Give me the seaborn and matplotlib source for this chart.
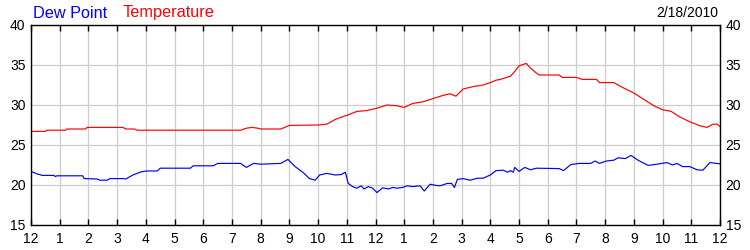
import matplotlib
matplotlib.use("Agg")
import matplotlib.pyplot as plt
import seaborn as sns
import pandas as pd

# ---- data (hours since midnight, °F) ----
temp_hours = [0.0, 0.5, 0.55, 1.2, 1.25, 1.9, 1.95, 3.2, 3.3, 3.6, 3.7, 7.3, 7.5, 7.7, 7.9, 8.0, 8.7, 9.0,
              10.0, 10.3, 10.6, 10.9, 11.0, 11.35, 11.7, 12.05, 12.4, 12.75, 13.0, 13.3, 13.65, 14.0,
              14.35, 14.6, 14.8, 15.05, 15.4, 15.75, 16.0, 16.2, 16.35, 16.7, 16.85, 17.0, 17.25,
              17.4, 17.6, 17.7, 18.4, 18.5, 19.0, 19.2, 19.7, 19.8, 20.3, 20.6, 21.0, 21.3, 21.7,
              22.0, 22.3, 22.6, 22.95, 23.3, 23.55, 23.75, 23.9, 24.0]
temp_values = [26.7, 26.7, 26.85, 26.85, 27.0, 27.0, 27.2, 27.2, 27.0, 27.0, 26.85, 26.85, 27.1, 27.2, 27.1, 27.0,
               27.0, 27.45, 27.5, 27.6, 28.2, 28.6, 28.7, 29.2, 29.3, 29.6, 30.0, 29.9, 29.7, 30.2, 30.4,
               30.8, 31.2, 31.4, 31.1, 32.0, 32.3, 32.5, 32.8, 33.1, 33.2, 33.6, 34.2, 34.9, 35.2, 34.6,
               34.0, 33.75, 33.75, 33.45, 33.45, 33.2, 33.2, 32.8, 32.8, 32.2, 31.5, 30.8, 29.9, 29.4,
               29.2, 28.5, 27.9, 27.4, 27.2, 27.6, 27.6, 27.3]

dew_hours = [0.0, 0.2, 0.4, 0.8, 0.85, 0.9, 1.8, 1.85, 2.3, 2.4, 2.65, 2.75, 3.2, 3.3, 3.55, 3.8, 4.0, 4.4,
             4.5, 5.55, 5.65, 6.35, 6.5, 7.3, 7.5, 7.75, 8.0, 8.7, 8.95, 9.2, 9.5, 9.7, 9.9, 10.05, 10.3,
             10.6, 10.8, 10.95, 11.05, 11.2, 11.35, 11.5, 11.6, 11.75, 11.9, 12.05, 12.25, 12.45, 12.6,
             12.75, 12.95, 13.1, 13.3, 13.55, 13.7, 13.9, 14.1, 14.25, 14.5, 14.65, 14.75, 14.85, 15.05,
             15.3, 15.55, 15.75, 16.0, 16.2, 16.45, 16.6, 16.7, 16.8, 16.85, 17.0, 17.2, 17.4, 17.6,
             18.4, 18.55, 18.8, 19.1, 19.5, 19.65, 19.8, 20.05, 20.3, 20.45, 20.7, 20.9, 21.1, 21.3,
             21.5, 21.8, 22.15, 22.35, 22.5, 22.7, 22.95, 23.2, 23.4, 23.65, 24.0]
dew_values = [21.7, 21.4, 21.2, 21.2, 21.05, 21.15, 21.15, 20.8, 20.75, 20.6, 20.6, 20.8, 20.8, 20.75, 21.25,
              21.6, 21.75, 21.75, 22.1, 22.1, 22.4, 22.4, 22.7, 22.7, 22.2, 22.7, 22.6, 22.7, 23.2, 22.3,
              21.5, 20.8, 20.6, 21.25, 21.45, 21.25, 21.3, 21.6, 20.2, 19.8, 19.6, 19.9, 19.5, 19.8, 19.6,
              19.05, 19.65, 19.5, 19.7, 19.6, 19.7, 19.9, 19.8, 19.9, 19.25, 20.1, 19.95, 19.9, 20.2, 20.2,
              19.7, 20.7, 20.8, 20.6, 20.85, 20.85, 21.25, 21.8, 21.85, 21.6, 21.8, 21.6, 22.2, 21.7,
              22.2, 21.9, 22.1, 22.05, 21.8, 22.55, 22.7, 22.7, 23.0, 22.7, 23.0, 23.1, 23.4, 23.3,
              23.7, 23.2, 22.8, 22.45, 22.6, 22.8, 22.5, 22.7, 22.3, 22.3, 21.9, 21.85, 22.8, 22.65]

tick_labels = ["12", "1", "2", "3", "4", "5", "6", "7", "8", "9", "10", "11",
               "12", "1", "2", "3", "4", "5", "6", "7", "8", "9", "10", "11", "12"]
y_ticks = [15, 20, 25, 30, 35, 40]
series_names = ["Dew Point", "Temperature"]
date_label = "2/18/2010"

sns.set_theme(style="white")
plt.rcParams["font.family"] = ["Liberation Sans", "DejaVu Sans"]

fig = plt.figure(figsize=(7.5, 2.5), dpi=100)
ax = fig.add_axes([31 / 750, 25 / 250, 689 / 750, 200 / 250])

temp_df = pd.DataFrame({"hour": temp_hours, "value": temp_values})
dew_df = pd.DataFrame({"hour": dew_hours, "value": dew_values})
sns.lineplot(data=temp_df, x="hour", y="value", color="#ff0000", linewidth=0.85, ax=ax)
sns.lineplot(data=dew_df, x="hour", y="value", color="#0000ff", linewidth=0.85, ax=ax)

ax.set_xlim(0, 24)
ax.set_ylim(15, 40)
ax.set_xticks(range(25))
ax.set_xticklabels(tick_labels)
ax.set_yticks(y_ticks)
ax.set_xlabel("")
ax.set_ylabel("")
ax.grid(True, color="#cccccc", linewidth=0.9)
ax.set_axisbelow(True)

for s in ax.spines.values():
    s.set_color("black")
    s.set_linewidth(1.0)

ax.tick_params(axis="x", direction="in", length=4, width=1, color="black",
               top=True, bottom=True, labelsize=10, labelcolor="black", pad=5)
ax.tick_params(axis="y", direction="in", length=0, left=True, right=True,
               labelleft=True, labelright=True, labelsize=10, labelcolor="black", pad=4)

fig.text(33 / 750, 1 - 13 / 250, series_names[0], color="#0000ff", fontsize=11.7, va="center", ha="left")
fig.text(123 / 750, 1 - 13 / 250, series_names[1], color="#ff0000", fontsize=11.7, va="center", ha="left")
fig.text(718 / 750, 1 - 13 / 250, date_label, color="black", fontsize=10, va="center", ha="right")

fig.savefig("out.png", dpi=100)
